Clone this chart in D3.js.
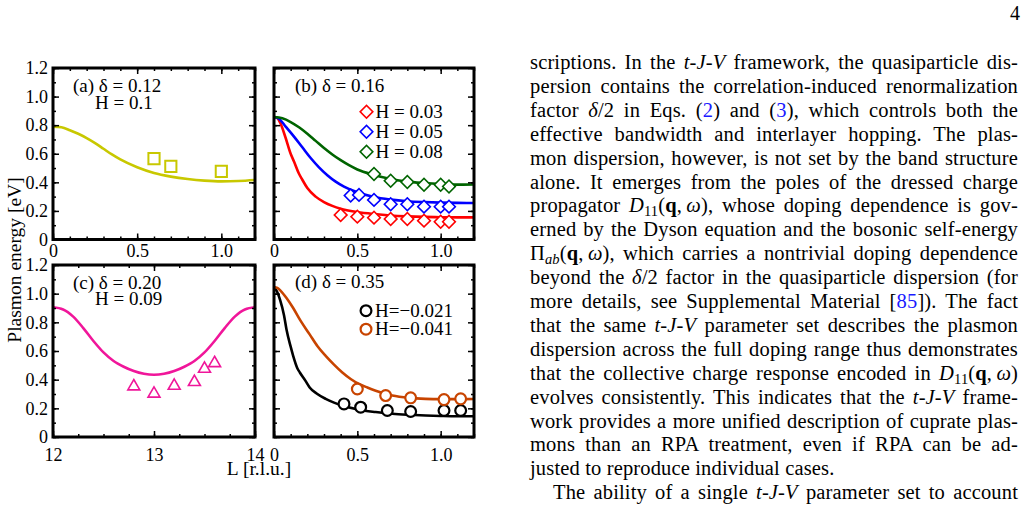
<!DOCTYPE html>
<html>
<head>
<meta charset="utf-8">
<script src="https://cdn.jsdelivr.net/npm/d3@7"></script>
<style>
  body { margin: 0; background: #fff; }
  svg { display: block; }
</style>
</head>
<body>
<div id="viz"></div>
<script>
// Declarations
const width = 1026, height = 508;
const SERIF = "'Liberation Serif','Times New Roman',serif";

// tick labels
const yTicks = [0, 0.2, 0.4, 0.6, 0.8, 1.0, 1.2];
const qTicks = [0, 0.5, 1.0];
const lTicks = [12, 13, 14];

// (a) delta = 0.12, H = 0.1
const aLineX = [0, 0.05, 0.1, 0.15, 0.2, 0.25, 0.3, 0.35, 0.4, 0.5, 0.6, 0.7, 0.8, 0.9, 1.0, 1.1, 1.2];
const aLineY = [0.79, 0.785, 0.765, 0.74, 0.71, 0.675, 0.635, 0.595, 0.56, 0.505, 0.465, 0.44, 0.423, 0.412, 0.407, 0.409, 0.416];
const aPtsX = [0.60, 0.70, 1.00];
const aPtsY = [0.566, 0.512, 0.477];

// (b) delta = 0.16
const bRedX = [0, 0.02, 0.04, 0.07, 0.1, 0.12, 0.15, 0.17, 0.2, 0.25, 0.3, 0.35, 0.4, 0.5, 0.6, 0.7, 0.8, 0.9, 1.0, 1.1, 1.2];
const bRedY = [0.857, 0.85, 0.81, 0.71, 0.60, 0.546, 0.46, 0.418, 0.36, 0.30, 0.262, 0.235, 0.215, 0.192, 0.178, 0.168, 0.162, 0.158, 0.156, 0.155, 0.155];
const bBlueX = [0, 0.03, 0.07, 0.12, 0.17, 0.22, 0.27, 0.32, 0.37, 0.42, 0.5, 0.6, 0.7, 0.8, 0.9, 1.0, 1.1, 1.2];
const bBlueY = [0.857, 0.845, 0.79, 0.72, 0.645, 0.57, 0.505, 0.45, 0.405, 0.37, 0.33, 0.297, 0.279, 0.268, 0.262, 0.258, 0.256, 0.255];
const bGreenX = [0, 0.05, 0.1, 0.15, 0.2, 0.25, 0.3, 0.35, 0.4, 0.45, 0.5, 0.6, 0.7, 0.8, 0.9, 1.0, 1.1, 1.2];
const bGreenY = [0.857, 0.848, 0.822, 0.785, 0.74, 0.69, 0.64, 0.595, 0.555, 0.52, 0.49, 0.452, 0.424, 0.405, 0.395, 0.388, 0.384, 0.385];
const bPtsRedX = [0.40, 0.50, 0.60, 0.70, 0.80, 0.90, 1.00, 1.05];
const bPtsRedY = [0.171, 0.160, 0.153, 0.143, 0.143, 0.132, 0.124, 0.124];
const bPtsBlueX = [0.46, 0.51, 0.60, 0.70, 0.80, 0.90, 1.00, 1.05];
const bPtsBlueY = [0.308, 0.312, 0.277, 0.247, 0.247, 0.230, 0.230, 0.230];
const bPtsGreenX = [0.60, 0.70, 0.80, 0.90, 1.00, 1.05];
const bPtsGreenY = [0.458, 0.411, 0.402, 0.383, 0.383, 0.371];
const bLegend = ["H = 0.03", "H = 0.05", "H = 0.08"];

// (c) delta = 0.20, H = 0.09
const cLineX = [12, 12.1, 12.2, 12.3, 12.4, 12.5, 12.6, 12.7, 12.8, 12.9, 13.0, 13.1, 13.2, 13.3, 13.4, 13.5, 13.6, 13.7, 13.8, 13.9, 14];
const cLineY = [0.905, 0.89, 0.84, 0.76, 0.67, 0.59, 0.53, 0.49, 0.46, 0.441, 0.434, 0.441, 0.46, 0.49, 0.53, 0.59, 0.67, 0.76, 0.84, 0.89, 0.905];
const cPtsX = [12.8, 13.0, 13.2, 13.4, 13.5, 13.6];
const cPtsY = [0.353, 0.302, 0.357, 0.383, 0.476, 0.515];

// (d) delta = 0.35
const dBlackX = [0, 0.02, 0.036, 0.06, 0.075, 0.1, 0.115, 0.14, 0.155, 0.19, 0.214, 0.26, 0.31, 0.36, 0.41, 0.51, 0.61, 0.71, 0.81, 0.91, 1.0, 1.1, 1.2];
const dBlackY = [1.046, 1.01, 0.958, 0.85, 0.75, 0.63, 0.566, 0.48, 0.45, 0.39, 0.346, 0.30, 0.266, 0.24, 0.219, 0.19, 0.174, 0.162, 0.155, 0.150, 0.147, 0.145, 0.145];
const dOrangeX = [0, 0.02, 0.04, 0.075, 0.115, 0.16, 0.214, 0.26, 0.31, 0.36, 0.41, 0.46, 0.51, 0.56, 0.61, 0.71, 0.81, 0.91, 1.0, 1.1, 1.2];
const dOrangeY = [1.046, 1.04, 1.02, 0.97, 0.90, 0.81, 0.716, 0.635, 0.566, 0.505, 0.45, 0.405, 0.37, 0.345, 0.323, 0.289, 0.273, 0.266, 0.264, 0.264, 0.265];
const dPtsBlackX = [0.42, 0.52, 0.68, 0.82, 1.02, 1.12];
const dPtsBlackY = [0.231, 0.208, 0.185, 0.178, 0.185, 0.185];
const dPtsOrangeX = [0.50, 0.67, 0.82, 1.02, 1.12];
const dPtsOrangeY = [0.335, 0.289, 0.273, 0.261, 0.266];
const dLegend = ["H=\u22120.021", "H=\u22120.041"];

// body text next to the figure
const bodyLines = [
  [["scriptions. In the "], ["t-J-V", "i"], [" framework, the quasiparticle dis-"]],
  [["persion contains the correlation-induced renormalization"]],
  [["factor "], ["\u03b4", "i"], ["/2 in Eqs. ("], ["2", "a"], [") and ("], ["3", "a"], ["), which controls both the"]],
  [["effective bandwidth and interlayer hopping. The plas-"]],
  [["mon dispersion, however, is not set by the band structure"]],
  [["alone. It emerges from the poles of the dressed charge"]],
  [["propagator "], ["D", "i"], ["11", "s"], ["("], ["q", "b"], [",\u2009"], ["\u03c9", "i"], ["), whose doping dependence is gov-"]],
  [["erned by the Dyson equation and the bosonic self-energy"]],
  [["\u03a0"], ["ab", "si"], ["("], ["q", "b"], [",\u2009"], ["\u03c9", "i"], ["), which carries a nontrivial doping dependence"]],
  [["beyond the "], ["\u03b4", "i"], ["/2 factor in the quasiparticle dispersion (for"]],
  [["more details, see Supplemental Material ["], ["85", "a"], ["]). The fact"]],
  [["that the same "], ["t-J-V", "i"], [" parameter set describes the plasmon"]],
  [["dispersion across the full doping range thus demonstrates"]],
  [["that the collective charge response encoded in "], ["D", "i"], ["11", "s"], ["("], ["q", "b"], [",\u2009"], ["\u03c9", "i"], [")"]],
  [["evolves consistently. This indicates that the "], ["t-J-V", "i"], [" frame-"]],
  [["work provides a more unified description of cuprate plas-"]],
  [["mons than an RPA treatment, even if RPA can be ad-"]],
  [["justed to reproduce individual cases."]],
  [["The ability of a single "], ["t-J-V", "i"], [" parameter set to account"]]
];

const svg = d3.select("#viz").append("svg")
  .attr("width", width).attr("height", height)
  .style("background", "#fff");

const fmtQ = d => d === 0 ? "0" : d3.format(".1f")(d);

const panels = [
  { id: "a", left: 53, right: 255, top: 68, bottom: 239.5, xDomain: [0, 1.2],
    xTicks: qTicks, xMinor: d3.range(0, 1.21, 0.1), xFmt: fmtQ, xPad: 5, yLabels: true,
    lines: [{ x: aLineX, y: aLineY, color: "#c8c800" }],
    pts: [{ x: aPtsX, y: aPtsY, color: "#c8c800", shape: "square" }],
    labels: [["(a) \u03b4 = 0.12", 73, 92], ["H = 0.1", 95, 108.5]] },
  { id: "b", left: 274, right: 474, top: 68, bottom: 239.5, xDomain: [0, 1.2],
    xTicks: qTicks, xMinor: d3.range(0, 1.21, 0.1), xFmt: fmtQ, xPad: 5, yLabels: false,
    lines: [{ x: bRedX, y: bRedY, color: "#ff0000" }, { x: bBlueX, y: bBlueY, color: "#0000ff" }, { x: bGreenX, y: bGreenY, color: "#006400" }],
    pts: [{ x: bPtsRedX, y: bPtsRedY, color: "#ff0000", shape: "diamond" },
          { x: bPtsBlueX, y: bPtsBlueY, color: "#0000ff", shape: "diamond" },
          { x: bPtsGreenX, y: bPtsGreenY, color: "#006400", shape: "diamond" }],
    labels: [["(b) \u03b4 = 0.16", 295, 92]],
    legend: { names: bLegend, colors: ["#ff0000", "#0000ff", "#006400"], shape: "diamond", x: 366.5, y: 111.7, dy: 20 } },
  { id: "c", left: 53, right: 255, top: 265, bottom: 437, xDomain: [12, 14],
    xTicks: lTicks, xMinor: d3.range(12, 14.01, 0.25), xFmt: d3.format("d"), xPad: 11, yLabels: true,
    lines: [{ x: cLineX, y: cLineY, color: "#f0169a" }],
    pts: [{ x: cPtsX, y: cPtsY, color: "#f0169a", shape: "triangle" }],
    labels: [["(c) \u03b4 = 0.20", 73, 289], ["H = 0.09", 95, 305]] },
  { id: "d", left: 274, right: 474, top: 265, bottom: 437, xDomain: [0, 1.2],
    xTicks: qTicks, xMinor: d3.range(0, 1.21, 0.1), xFmt: fmtQ, xPad: 11, yLabels: false,
    lines: [{ x: dBlackX, y: dBlackY, color: "#000000" }, { x: dOrangeX, y: dOrangeY, color: "#c84400" }],
    pts: [{ x: dPtsBlackX, y: dPtsBlackY, color: "#000000", shape: "circle" },
          { x: dPtsOrangeX, y: dPtsOrangeY, color: "#c84400", shape: "circle" }],
    labels: [["(d) \u03b4 = 0.35", 295, 288]],
    legend: { names: dLegend, colors: ["#000000", "#c84400"], shape: "circle", x: 366, y: 310.7, dy: 18.5 } }
];

function marker(g, shape, cx, cy, color) {
  if (shape === "circle") {
    return g.append("circle").attr("cx", cx).attr("cy", cy).attr("r", 5.4)
      .attr("fill", "#fff").attr("stroke", color).attr("stroke-width", 2.2);
  }
  let sym, size, rot = 0, sw = 1.6;
  if (shape === "square") { sym = d3.symbolSquare; size = 125; sw = 2; }
  if (shape === "diamond") { sym = d3.symbolSquare; size = 80; rot = 45; }
  if (shape === "triangle") { sym = d3.symbolTriangle; size = 62; }
  return g.append("path").attr("d", d3.symbol(sym, size)())
    .attr("transform", `translate(${cx},${cy}) rotate(${rot})`)
    .attr("fill", "#fff").attr("stroke", color).attr("stroke-width", sw);
}

function tickSet(g, axis, transform, size, fmt, pad) {
  axis.tickSize(-size).tickPadding(pad).tickFormat(fmt || "");
  const sel = g.append("g").attr("transform", transform).call(axis);
  sel.select(".domain").remove();
  sel.selectAll("line").attr("stroke", "#000").attr("stroke-width", 1.5);
  sel.selectAll("text").attr("font-family", SERIF).attr("font-size", 18).attr("fill", "#000");
}

function drawPanel(p) {
  const g = svg.append("g");
  const x = d3.scaleLinear().domain(p.xDomain).range([p.left, p.right]);
  const y = d3.scaleLinear().domain([0, 1.2]).range([p.bottom, p.top]);

  svg.append("clipPath").attr("id", "clip-" + p.id).append("rect")
    .attr("x", p.left).attr("y", p.top)
    .attr("width", p.right - p.left).attr("height", p.bottom - p.top);

  const line = d3.line().x(d => x(d[0])).y(d => y(d[1])).curve(d3.curveMonotoneX);
  p.lines.forEach(l => {
    g.append("path").datum(d3.zip(l.x, l.y))
      .attr("clip-path", `url(#clip-${p.id})`)
      .attr("d", line).attr("fill", "none")
      .attr("stroke", l.color).attr("stroke-width", 2.6);
  });

  p.pts.forEach(s => {
    s.x.forEach((v, i) => marker(g, s.shape, x(v), y(s.y[i]), s.color));
  });

  // ticks, all pointing inside
  const yMinor = d3.range(0, 1.21, 0.1);
  tickSet(g, d3.axisBottom(x).tickValues(p.xTicks), `translate(0,${p.bottom})`, 6, p.xFmt, p.xPad);
  tickSet(g, d3.axisBottom(x).tickValues(p.xMinor), `translate(0,${p.bottom})`, 3);
  tickSet(g, d3.axisTop(x).tickValues(p.xTicks), `translate(0,${p.top})`, 6);
  tickSet(g, d3.axisTop(x).tickValues(p.xMinor), `translate(0,${p.top})`, 3);
  tickSet(g, d3.axisLeft(y).tickValues(yTicks), `translate(${p.left},0)`, 6, p.yLabels ? fmtQ : null, 5);
  tickSet(g, d3.axisLeft(y).tickValues(yMinor), `translate(${p.left},0)`, 3);
  tickSet(g, d3.axisRight(y).tickValues(yTicks), `translate(${p.right},0)`, 6);
  tickSet(g, d3.axisRight(y).tickValues(yMinor), `translate(${p.right},0)`, 3);

  g.append("rect").attr("x", p.left).attr("y", p.top)
    .attr("width", p.right - p.left).attr("height", p.bottom - p.top)
    .attr("fill", "none").attr("stroke", "#000").attr("stroke-width", 3);

  p.labels.forEach(t => {
    g.append("text").attr("x", t[1]).attr("y", t[2])
      .attr("font-family", SERIF).attr("font-size", 19).text(t[0]);
  });

  if (p.legend) {
    const L = p.legend;
    L.names.forEach((n, i) => {
      const cy = L.y + i * L.dy;
      marker(g, L.shape, L.x, cy, L.colors[i]);
      g.append("text").attr("x", L.x + 9).attr("y", cy + 6)
        .attr("font-family", SERIF).attr("font-size", 19).text(n);
    });
  }
}

panels.forEach(drawPanel);

// axis titles
svg.append("text")
  .attr("transform", "translate(21,260) rotate(-90)")
  .attr("text-anchor", "middle")
  .attr("font-family", SERIF).attr("font-size", 19.5)
  .text("Plasmon energy [eV]");
svg.append("text")
  .attr("x", 259).attr("y", 475)
  .attr("text-anchor", "middle")
  .attr("font-family", SERIF).attr("font-size", 19.5)
  .text("L [r.l.u.]");

// page number
svg.append("text").attr("x", 1020).attr("y", 20).attr("text-anchor", "end")
  .attr("font-family", SERIF).attr("font-size", 20).text("4");

// body text, justified line by line
const textLeft = 530, textRight = 1018, firstBase = 69, lead = 23.9;
const rows = bodyLines.map((segs, i) => {
  const indent = i === bodyLines.length - 1 ? 23 : 0;
  const t = svg.append("text")
    .attr("x", textLeft + indent).attr("y", firstBase + i * lead)
    .attr("font-family", SERIF).attr("font-size", 20.5).attr("fill", "#000");
  let shifted = false;
  segs.forEach(s => {
    const st = s[1] || "";
    const ts = t.append("tspan").text(s[0]);
    if (st.startsWith("s")) { ts.attr("font-size", 14.5).attr("dy", 4); shifted = true; }
    else if (shifted) { ts.attr("dy", -4); shifted = false; }
    if (st === "i" || st === "si") ts.attr("font-style", "italic");
    if (st === "b") ts.attr("font-weight", "bold");
    if (st === "a") ts.attr("fill", "#1a1aff");
  });
  const full = segs.map(s => s[0]).join("");
  return { t, full, target: textRight - textLeft - indent,
           justify: i !== bodyLines.length - 2,
           spaces: (full.match(/ /g) || []).length };
});

// a common letter spacing so that the tightest line fits with plain spaces
const ls = d3.min(rows.filter(r => r.justify),
  r => (r.target - r.t.node().getComputedTextLength() - r.spaces * 1) / r.full.length);
rows.forEach(r => {
  r.t.style("letter-spacing", ls + "px");
  if (!r.justify || r.spaces === 0) return;
  const natural = r.t.node().getComputedTextLength();
  r.t.style("word-spacing", ((r.target - natural) / r.spaces) + "px");
});
</script>
</body>
</html>
